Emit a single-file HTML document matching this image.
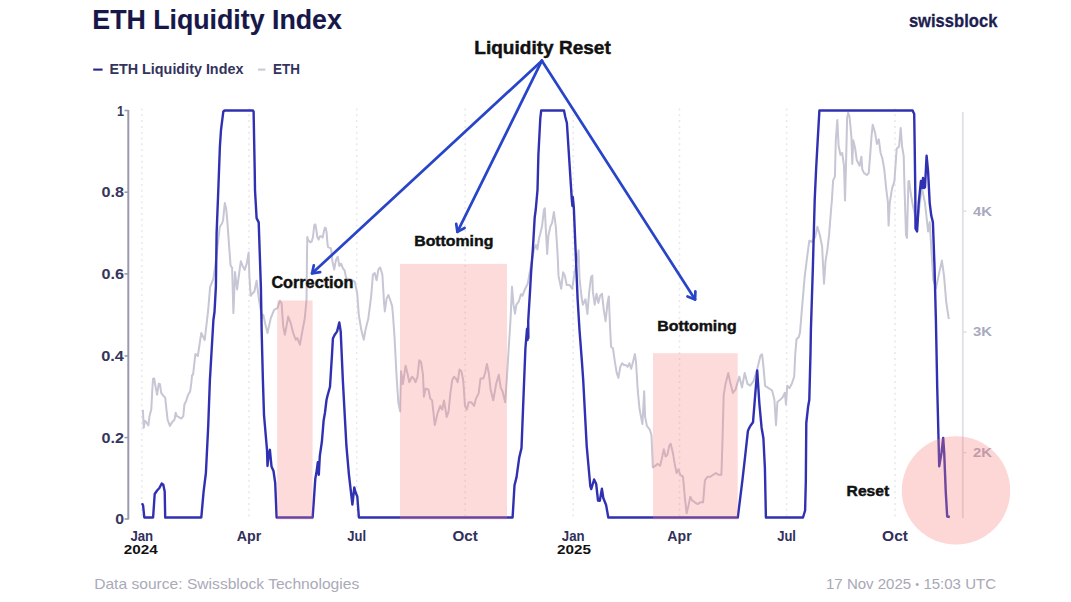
<!DOCTYPE html>
<html><head><meta charset="utf-8"><title>ETH Liquidity Index</title>
<style>
html,body{margin:0;padding:0;background:#fff;}
body{width:1071px;height:602px;position:relative;overflow:hidden;font-family:"Liberation Sans", sans-serif;}
</style></head><body>
<svg width="1071" height="602" viewBox="0 0 1071 602" style="position:absolute;left:0;top:0"><line x1="141.8" y1="108.5" x2="141.8" y2="518" stroke="#e8e8ec" stroke-width="1.5" stroke-dasharray="2 3.8"/><line x1="249" y1="108.5" x2="249" y2="518" stroke="#e8e8ec" stroke-width="1.5" stroke-dasharray="2 3.8"/><line x1="356.7" y1="108.5" x2="356.7" y2="518" stroke="#e8e8ec" stroke-width="1.5" stroke-dasharray="2 3.8"/><line x1="465.2" y1="108.5" x2="465.2" y2="518" stroke="#e8e8ec" stroke-width="1.5" stroke-dasharray="2 3.8"/><line x1="573.2" y1="108.5" x2="573.2" y2="518" stroke="#e8e8ec" stroke-width="1.5" stroke-dasharray="2 3.8"/><line x1="679.5" y1="108.5" x2="679.5" y2="518" stroke="#e8e8ec" stroke-width="1.5" stroke-dasharray="2 3.8"/><line x1="786.6" y1="108.5" x2="786.6" y2="518" stroke="#e8e8ec" stroke-width="1.5" stroke-dasharray="2 3.8"/><line x1="895" y1="108.5" x2="895" y2="518" stroke="#e8e8ec" stroke-width="1.5" stroke-dasharray="2 3.8"/><line x1="128.3" y1="110" x2="128.3" y2="519.5" stroke="#9a9ab0" stroke-width="2"/><line x1="124.5" y1="110.5" x2="128.3" y2="110.5" stroke="#9a9ab0" stroke-width="1.6"/><line x1="124.5" y1="192.2" x2="128.3" y2="192.2" stroke="#9a9ab0" stroke-width="1.6"/><line x1="124.5" y1="273.9" x2="128.3" y2="273.9" stroke="#9a9ab0" stroke-width="1.6"/><line x1="124.5" y1="355.9" x2="128.3" y2="355.9" stroke="#9a9ab0" stroke-width="1.6"/><line x1="124.5" y1="437.6" x2="128.3" y2="437.6" stroke="#9a9ab0" stroke-width="1.6"/><line x1="124.5" y1="519" x2="128.3" y2="519" stroke="#9a9ab0" stroke-width="1.6"/><line x1="962.8" y1="112" x2="962.8" y2="518" stroke="#e0e0e6" stroke-width="1.8"/><line x1="962.8" y1="211.2" x2="966.5" y2="211.2" stroke="#dddde3" stroke-width="1.4"/><line x1="962.8" y1="332" x2="966.5" y2="332" stroke="#dddde3" stroke-width="1.4"/><line x1="962.8" y1="452.6" x2="966.5" y2="452.6" stroke="#dddde3" stroke-width="1.4"/><polyline points="142.9,409.8 143.7,427.8 144.9,420.8 146.6,422.6 148.4,425.5 149.5,416.2 151.3,409.2 152.4,388.3 153,379 154.2,378.4 155.3,385.3 157.1,394.7 158.8,383.6 160,384.2 161.2,392.9 162.9,395.2 165.2,397.6 166.4,409.2 167.6,419.7 169.9,426 172.2,422 174.5,419.7 175.7,412.7 176.9,416.2 179.2,417.3 181.5,418.5 183.3,416.2 184.4,404.5 186.2,401 187.9,395.2 190.2,391.2 191.4,382.4 192,375.5 193.1,374.3 195.4,354 197.8,356 201.3,333 204.7,340 208.2,309.8 210.1,287.2 213.4,278.6 216,260 219.8,226.7 222,223.5 223.1,220.2 224.8,203 226.3,209.4 227.4,222.4 229.6,252.6 230.6,265.6 232.1,267.8 233.4,313.1 235,272.1 237.1,289.4 239.3,272.1 240.8,261.3 242.5,265.6 244.7,269.9 246.8,263.4 248.6,252.6 249.4,276.4 250.7,295.8 252.2,293.7 254.4,291.5 256.6,280.7 259,300 262,317.4 263.3,314.8 265.2,323.7 267.5,333 270.8,318.1 274.1,309.8 277.4,308.2 279.9,300.7 281.6,303.2 283.2,326.4 284.9,334.8 288.2,316.5 290.7,323.1 293.2,333.1 295.7,339.7 297.4,338.1 299.9,344.7 302.3,331.4 304.8,318.1 306.5,299.9 307,255 307.3,237 308.3,240.3 310.3,242.3 311.6,241.6 313,237 314.3,225 315.3,224.3 316.3,229.6 317.3,237 318.6,239.6 319.9,236.3 321.3,236.3 322.6,237.6 323.9,231.6 324.9,227.6 325.9,228.3 326.6,232.3 327.3,241.6 327.9,246.9 329.3,247.6 330.6,248.2 331.3,250.2 332.4,261.4 334.2,269.5 335.9,260.2 337.7,256.7 339.4,266 341.2,263.7 342.9,268.4 344.7,270.7 345.8,276.5 347,278.8 352,280 354.7,281.6 357.2,293.2 358.8,314.8 361.3,329.8 363.8,339.7 365.5,329.8 368.3,318.7 371.1,296.8 372.9,274.8 374.7,273 376.6,280.3 378.4,269.4 380.2,267.5 382.4,274.8 383.9,300.4 384.8,311.4 386.6,298.6 388.4,295 390.3,300.4 392.1,305.9 393,315.1 394.6,338.3 396.5,374.8 398.3,402.3 400.1,411.4 401,371.2 402.9,384 405.6,365.7 407.4,373 409.3,382.2 412,376.7 413.8,378.5 415.6,382.2 417.5,376.7 419.3,360.2 421.1,362 423,374.8 423.9,396.8 425.7,388.6 428.4,389.5 430.3,398.6 432.1,400.4 434.8,425.1 437.6,413.2 440.3,405.9 442.2,409.6 444,400.4 446.7,416.9 448.6,411.4 450.4,393.1 452.2,380.3 454,376.7 455.9,378.5 457.7,382.2 459.5,369.4 461.4,371.2 463.2,380.3 465,405.9 466.8,409.6 468.7,402.3 471.4,402.3 474.1,405.9 476,398.6 478.7,393.1 480.5,378.5 483.3,378.5 485.1,373 486.9,363.9 488.8,373 490.6,389.5 493.3,400.4 496.1,384 498.8,374.8 500.7,387.6 502.5,391.3 505.2,402.3 507.1,374.8 508.7,348.5 510.5,320 512,286.8 513.5,304.7 515,313.7 516.4,304.7 518.7,301.7 520.9,294.3 522.4,295.8 524.7,289.8 526.2,286.8 527.7,283.8 531,265 533.8,250.3 535.9,245 537.4,249.4 538.9,239 540.2,233.9 542,226.6 543.9,210.1 544.8,208.3 545.7,226.6 547.2,254 548.4,235.7 550.3,226.6 552.1,222.9 553.9,211.9 555.8,226.6 557.6,254 558.5,275.9 561.2,288.7 563.1,272.3 564.9,275.9 566.7,285 569.5,285 572.2,288.7 575,270 578.6,250.3 579.5,277.8 581.4,296 582.8,304.7 585.5,299.3 587.4,313.9 589.2,291.9 591,277.3 592.3,275.5 592.9,291.9 594.7,304.7 596.5,293.8 598.3,302.9 600.2,295.6 602,293.8 603.8,310.2 605.6,321.2 607.5,302.9 608.8,296.5 610.2,330.3 611.1,346.8 613,348.6 614.8,361.4 616.6,372.4 618.4,377.9 620.3,366.9 622.1,363.2 623.9,365 625.8,365.1 627.6,366.9 629.4,363.2 631.2,368.7 633.1,361.4 634.9,354.1 636,362 637.8,391.2 639.6,409.5 642.4,424.1 644.2,391.2 645.1,416.8 646.9,425.9 649.7,429.6 651.5,435.1 652.8,467.5 655.5,465.7 657.4,463.9 660.1,465.7 661.9,458.4 663.8,449.3 665.6,456.6 667.4,454.7 669.3,445.6 670.7,443.8 672.9,452.9 674.7,463.9 676.6,473 678.4,469.4 680.2,474.8 683,476.7 684.8,496.8 686.6,513.2 688.4,505.9 690.3,496.8 692.1,500.4 694.8,502.3 697.6,504.1 700.3,502.3 703.1,502.3 704.9,480.3 707.6,476.7 710.4,476.7 713.1,474.8 715.9,473 718.6,474.8 721.4,474.8 722.3,447.4 723.7,394.8 725.5,383.9 728.3,372.9 730.1,382 732.9,393 735.6,389.4 739.3,376.6 742,387.5 744.7,372.9 747.5,383.9 750.2,385.7 753.5,381.2 757,370 760.5,355.6 762.1,354.4 763.5,367.2 765.1,385.8 768.6,388.1 772.1,390.5 774.4,399.8 776,425.3 777.4,402.1 780.2,399.8 782.6,397.4 784.9,392.8 786,404.4 787.2,385.8 789.5,388.1 791.9,383.5 794.2,376.5 795.3,353.3 796.5,339.3 798.8,337 800,332.6 802.3,304.7 804.7,276.7 807,258.1 809.3,240.7 811.6,241.9 815.1,237.2 817.4,226.7 819.8,234.9 822.1,246.5 824,283.7 825.6,260.5 827.2,251.2 829.1,234.9 830.9,211.6 831.9,200 833.1,180.4 834.9,176.8 835.8,140.2 837.3,120.1 838.6,145.7 840.4,154.8 842.2,153 844,165.8 845,200.5 845.9,169.5 847.1,118.3 848.2,112.8 849.5,116.5 851.4,136.6 852.3,164 853.2,140.2 855,147.5 856.8,160.3 859.6,165.8 861.4,156.7 862.3,169.5 864.1,173.1 866.9,175 868.7,173.1 870.2,154.8 871.5,136.6 872.7,124.7 875.1,132.9 876.9,143.9 878.8,139.3 880.6,153 882.4,158.5 884.3,169.5 886.1,187.8 887.9,202.4 888.6,225.6 889.8,202.3 892.1,188.4 894.4,181.4 896.7,148.8 899.1,146.5 900.7,127.9 902.1,146.5 903.7,155.8 904.5,187.3 906,234.9 907,237.9 908.4,181.4 909.2,181 910.7,193 912.4,203.1 917.1,225.2 921.8,187.3 925,203.1 928.1,231.5 929.7,222.1 933.3,280 936,288.4 939.2,272.6 941.9,260.6 944,275.7 946.2,301.6 948.4,316.7 949,319" fill="none" stroke="#c6c6d4" stroke-width="2" stroke-linejoin="round"/><polyline points="142,503.3 143.1,505.6 144.3,517.5 153.1,517.5 154.7,494 157.1,490.5 159.4,488 161.7,483.5 163.3,484.7 164.7,491.6 165.2,517.5 201.3,517.5 203.6,491.6 205.9,473 208.2,426.5 209.9,380 213.4,320 214.5,312 215.9,286.5 216.6,233.2 218.3,190 219.9,146.5 221,130 223.3,111.6 224.5,110.5 252.9,110.5 253.6,111.6 254.7,169.8 255,190 256.6,218.1 258.7,222.4 259.8,254.8 260.9,287.2 261.7,333 262.9,380 264,415 267,449.8 267.5,466 268.7,454.4 269.9,449.8 271.5,466.4 273.5,471 275.2,483 276.6,517.5 312.6,517.5 313.6,503.8 315.3,478.9 316.7,470.6 317.8,462.3 318.8,474.8 319.8,456.1 321.9,441.5 323.6,420.8 325,412.5 326.5,400 327.5,395.7 330,386.8 332.1,352.9 332.9,338.6 334.6,335 337.1,331.4 339.3,322.5 340.7,331.4 342.9,381.4 346.4,445.7 348.9,474.3 352.4,504.5 354.3,487.5 355.6,492.5 357.3,496.5 358.9,517.5 512.6,517.5 514.5,485.2 516.5,477.4 519.2,457.8 521.5,448.1 523.1,407.1 525.4,348.5 527,329 527.6,340 528,326 528.4,338 528.2,321.2 530.1,290 531.1,272.3 532.9,248.5 534.7,217.4 535.7,210 537.5,190 538.4,154.8 540.3,118.3 541.2,110.5 564,110.5 565.3,117 566.9,123 571.8,199.3 572.4,206 572.8,197 573.8,207 575.7,252.8 577.6,298.7 579.5,330 581.9,361.4 583.2,380 586.7,446.1 590.3,486 591.3,489 594.1,479.5 596.2,484 598,500.5 599.8,500.7 601.9,488.7 603.3,498 606.1,505 608.3,517.5 737.8,517.5 742.4,480.3 745.1,456.6 747.9,431 749.3,427.8 750.6,425.5 753,422.3 755.2,394.8 757.2,370.5 759.4,404 761.6,427.7 763.4,438.3 764.9,468.2 765.9,517.5 803,517.5 805.1,510.5 805.8,482.3 806.3,423 808.1,406.7 809.3,399.8 810.5,353.3 810.9,330 812.8,269.8 814.7,200 816.1,169.5 817.9,136.6 819.4,110.5 912.6,110.5 914.2,114 914.7,146.5 915.3,193 915.5,228.4 917.1,231.5 918.7,203.1 920.9,181 922,188 923,178 924,188 925,187.3 926.6,155.8 928.1,171.6 929.7,203.1 931.3,215.8 932.9,222.1 934.5,266.3 935.9,320 937.2,386.4 939.2,466.2 941.5,452.9 943.2,437.9 944.2,452.9 945.8,492.8 947.2,516.5 949.8,517" fill="none" stroke="#3030b2" stroke-width="2.4" stroke-linejoin="round"/><text x="973" y="215.6" font-family='"Liberation Sans", sans-serif' font-size="12.2" font-weight="bold" fill="#a9a9bf" text-anchor="start" textLength="19" lengthAdjust="spacingAndGlyphs" >4K</text><text x="973" y="336.4" font-family='"Liberation Sans", sans-serif' font-size="12.2" font-weight="bold" fill="#a9a9bf" text-anchor="start" textLength="19" lengthAdjust="spacingAndGlyphs" >3K</text><text x="973" y="457.0" font-family='"Liberation Sans", sans-serif' font-size="12.2" font-weight="bold" fill="#a9a9bf" text-anchor="start" textLength="19" lengthAdjust="spacingAndGlyphs" >2K</text><rect x="277.2" y="300.5" width="35.4" height="219" fill="#f87c7c" fill-opacity="0.28"/><rect x="400" y="263.9" width="107" height="255.6" fill="#f87c7c" fill-opacity="0.28"/><rect x="653" y="353.2" width="84.7" height="166.3" fill="#f87c7c" fill-opacity="0.28"/><circle cx="956" cy="490.4" r="54.2" fill="#fa7c7c" fill-opacity="0.31"/><line x1="541.9" y1="60.7" x2="312.1" y2="273.3" stroke="#2844c8" stroke-width="2.7" stroke-linecap="round"/><path d="M320.2,272.2 L312.1,273.3 L313.8,265.3" fill="none" stroke="#2844c8" stroke-width="2.7" stroke-linecap="round" stroke-linejoin="round"/><line x1="541.9" y1="60.7" x2="457.4" y2="231.9" stroke="#2844c8" stroke-width="2.7" stroke-linecap="round"/><path d="M464.6,228.0 L457.4,231.9 L456.2,223.8" fill="none" stroke="#2844c8" stroke-width="2.7" stroke-linecap="round" stroke-linejoin="round"/><line x1="541.9" y1="60.7" x2="695.1" y2="299.5" stroke="#2844c8" stroke-width="2.7" stroke-linecap="round"/><path d="M695.4,291.3 L695.1,299.5 L687.5,296.4" fill="none" stroke="#2844c8" stroke-width="2.7" stroke-linecap="round" stroke-linejoin="round"/><text x="92.3" y="29.3" font-family='"Liberation Sans", sans-serif' font-size="28" font-weight="bold" fill="#17174a" text-anchor="start" textLength="249.5" lengthAdjust="spacingAndGlyphs" stroke="#17174a" stroke-width="0.15">ETH Liquidity Index</text><text x="908.9" y="27.4" font-family='"Liberation Sans", sans-serif' font-size="17.5" font-weight="bold" fill="#1e1e52" text-anchor="start" textLength="88.5" lengthAdjust="spacingAndGlyphs" stroke="#1e1e52" stroke-width="0.3">swissblock</text><line x1="93.2" y1="69.6" x2="102.6" y2="69.6" stroke="#26268a" stroke-width="2.1"/><text x="109.4" y="74.4" font-family='"Liberation Sans", sans-serif' font-size="14.3" font-weight="bold" fill="#33335c" text-anchor="start" textLength="134" lengthAdjust="spacingAndGlyphs" >ETH Liquidity Index</text><line x1="258" y1="69.6" x2="265.4" y2="69.6" stroke="#cacad6" stroke-width="2.1"/><text x="273" y="74.4" font-family='"Liberation Sans", sans-serif' font-size="14.3" font-weight="bold" fill="#33335c" text-anchor="start" textLength="27" lengthAdjust="spacingAndGlyphs" >ETH</text><text x="474.3" y="54.1" font-family='"Liberation Sans", sans-serif' font-size="18.8" font-weight="bold" fill="#111111" text-anchor="start" textLength="136.5" lengthAdjust="spacingAndGlyphs" stroke="#111" stroke-width="0.45">Liquidity Reset</text><text x="271.4" y="287.8" font-family='"Liberation Sans", sans-serif' font-size="15.6" font-weight="bold" fill="#111111" text-anchor="start" textLength="82" lengthAdjust="spacingAndGlyphs" stroke="#111" stroke-width="0.45">Correction</text><text x="414.2" y="246.2" font-family='"Liberation Sans", sans-serif' font-size="15.4" font-weight="bold" fill="#111111" text-anchor="start" textLength="79.2" lengthAdjust="spacingAndGlyphs" stroke="#111" stroke-width="0.45">Bottoming</text><text x="657.3" y="330.6" font-family='"Liberation Sans", sans-serif' font-size="15.4" font-weight="bold" fill="#111111" text-anchor="start" textLength="79.4" lengthAdjust="spacingAndGlyphs" stroke="#111" stroke-width="0.45">Bottoming</text><text x="846.6" y="496.3" font-family='"Liberation Sans", sans-serif' font-size="14.8" font-weight="bold" fill="#111111" text-anchor="start" textLength="42.6" lengthAdjust="spacingAndGlyphs" stroke="#111" stroke-width="0.45">Reset</text><text x="124" y="115.5" font-family='"Liberation Sans", sans-serif' font-size="14" font-weight="bold" fill="#36365c" text-anchor="end" textLength="7" lengthAdjust="spacingAndGlyphs" >1</text><text x="124" y="197.2" font-family='"Liberation Sans", sans-serif' font-size="14" font-weight="bold" fill="#36365c" text-anchor="end" textLength="22.5" lengthAdjust="spacingAndGlyphs" >0.8</text><text x="124" y="278.9" font-family='"Liberation Sans", sans-serif' font-size="14" font-weight="bold" fill="#36365c" text-anchor="end" textLength="22.5" lengthAdjust="spacingAndGlyphs" >0.6</text><text x="124" y="360.9" font-family='"Liberation Sans", sans-serif' font-size="14" font-weight="bold" fill="#36365c" text-anchor="end" textLength="22.8" lengthAdjust="spacingAndGlyphs" >0.4</text><text x="124" y="442.6" font-family='"Liberation Sans", sans-serif' font-size="14" font-weight="bold" fill="#36365c" text-anchor="end" textLength="22.5" lengthAdjust="spacingAndGlyphs" >0.2</text><text x="124" y="524" font-family='"Liberation Sans", sans-serif' font-size="14" font-weight="bold" fill="#36365c" text-anchor="end" textLength="8.8" lengthAdjust="spacingAndGlyphs" >0</text><text x="141.8" y="540.5" font-family='"Liberation Sans", sans-serif' font-size="14.2" font-weight="bold" fill="#30305a" text-anchor="middle" textLength="22.8" lengthAdjust="spacingAndGlyphs" >Jan</text><text x="249" y="540.5" font-family='"Liberation Sans", sans-serif' font-size="14.2" font-weight="bold" fill="#30305a" text-anchor="middle" textLength="24.5" lengthAdjust="spacingAndGlyphs" >Apr</text><text x="356.7" y="540.5" font-family='"Liberation Sans", sans-serif' font-size="14.2" font-weight="bold" fill="#30305a" text-anchor="middle" textLength="18.8" lengthAdjust="spacingAndGlyphs" >Jul</text><text x="465.2" y="540.5" font-family='"Liberation Sans", sans-serif' font-size="14.2" font-weight="bold" fill="#30305a" text-anchor="middle" textLength="25.3" lengthAdjust="spacingAndGlyphs" >Oct</text><text x="573.2" y="540.5" font-family='"Liberation Sans", sans-serif' font-size="14.2" font-weight="bold" fill="#30305a" text-anchor="middle" textLength="22.8" lengthAdjust="spacingAndGlyphs" >Jan</text><text x="679.5" y="540.5" font-family='"Liberation Sans", sans-serif' font-size="14.2" font-weight="bold" fill="#30305a" text-anchor="middle" textLength="24.3" lengthAdjust="spacingAndGlyphs" >Apr</text><text x="786.6" y="540.5" font-family='"Liberation Sans", sans-serif' font-size="14.2" font-weight="bold" fill="#30305a" text-anchor="middle" textLength="18.8" lengthAdjust="spacingAndGlyphs" >Jul</text><text x="895" y="540.5" font-family='"Liberation Sans", sans-serif' font-size="14.2" font-weight="bold" fill="#30305a" text-anchor="middle" textLength="25.8" lengthAdjust="spacingAndGlyphs" >Oct</text><text x="140.7" y="554" font-family='"Liberation Sans", sans-serif' font-size="13" font-weight="bold" fill="#111111" text-anchor="middle" textLength="34" lengthAdjust="spacingAndGlyphs" >2024</text><text x="574" y="554" font-family='"Liberation Sans", sans-serif' font-size="13" font-weight="bold" fill="#111111" text-anchor="middle" textLength="34" lengthAdjust="spacingAndGlyphs" >2025</text><text x="94.2" y="588.5" font-family='"Liberation Sans", sans-serif' font-size="15" font-weight="normal" fill="#aaaab8" text-anchor="start" textLength="265" lengthAdjust="spacingAndGlyphs" >Data source: Swissblock Technologies</text><text x="826" y="588.6" font-family='"Liberation Sans", sans-serif' font-size="15" font-weight="normal" fill="#a8a8b6" text-anchor="start" textLength="170" lengthAdjust="spacingAndGlyphs" >17 Nov 2025 <tspan font-size="11" dy="-0.5">•</tspan><tspan dy="0.5"> 15:03 UTC</tspan></text></svg>
</body></html>
